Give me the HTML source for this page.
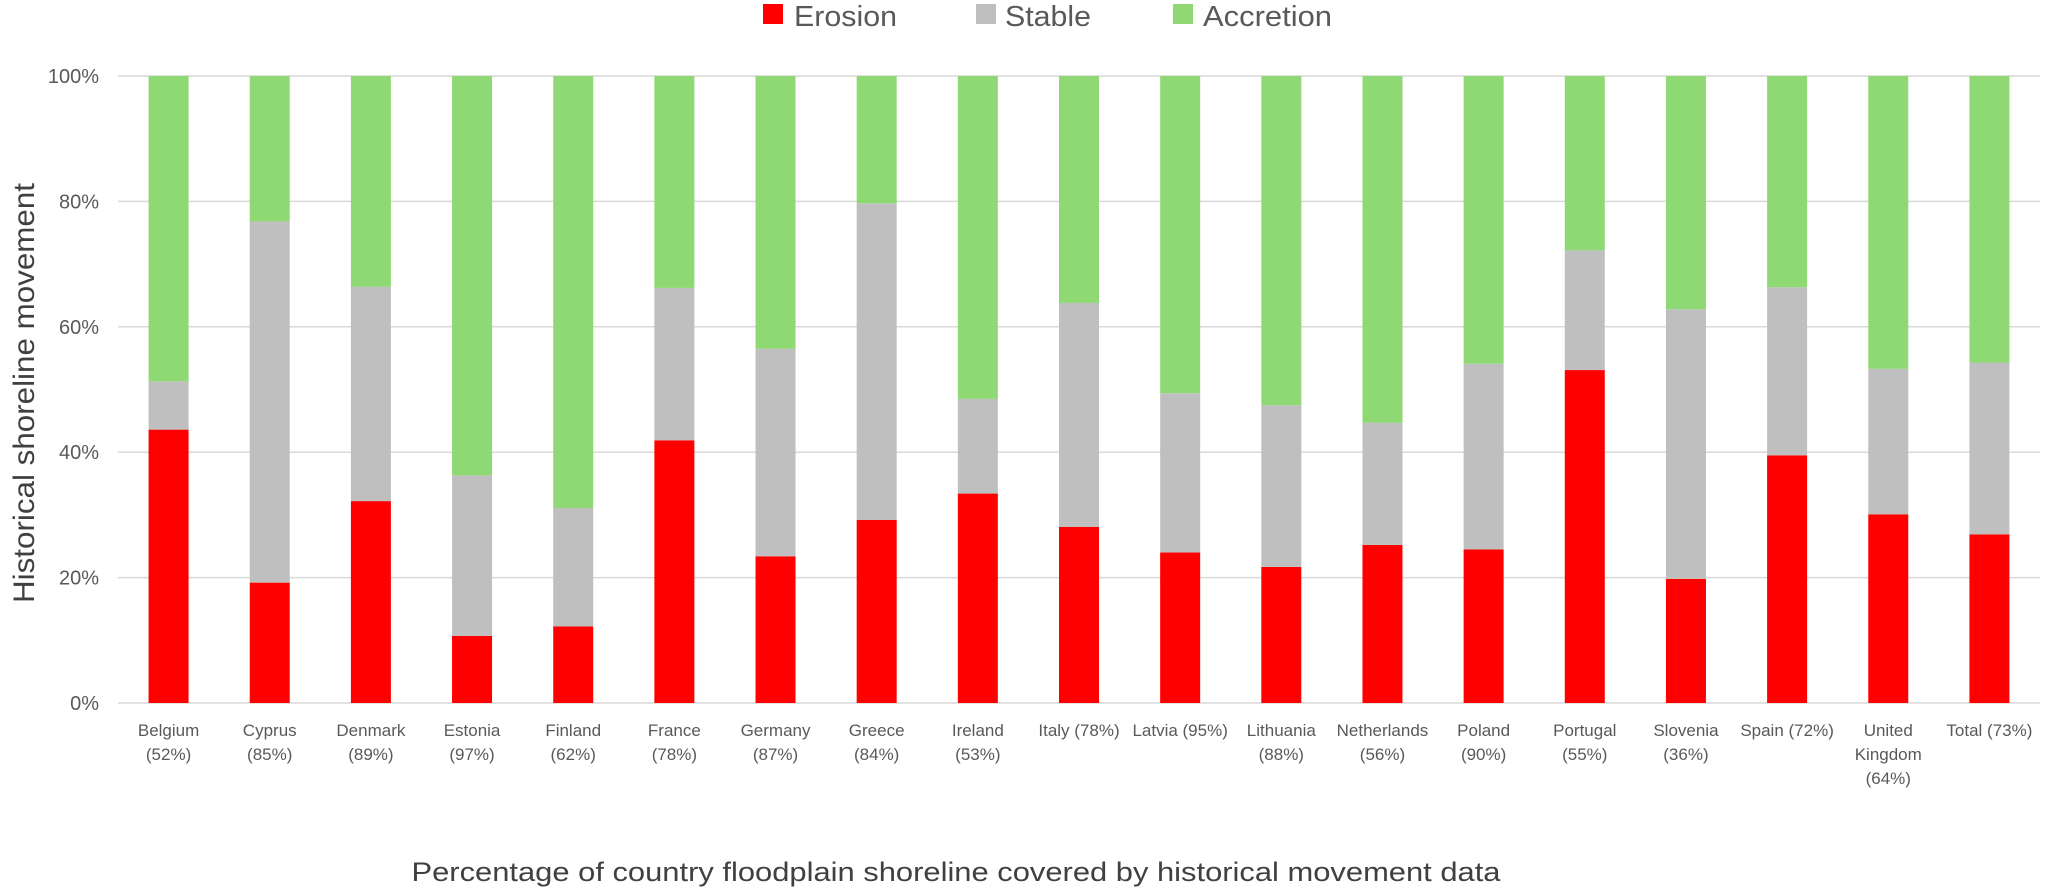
<!DOCTYPE html>
<html><head><meta charset="utf-8"><style>
html,body{margin:0;padding:0;background:#fff;}
svg{display:block;font-family:"Liberation Sans",sans-serif;}
</style></head><body>
<svg id="chart" width="2048" height="896" viewBox="0 0 2048 896" xmlns="http://www.w3.org/2000/svg">
<g id="legend">
 <g><rect x="763" y="4" width="20" height="20" fill="#FF0000"/><text x="794" y="26" font-size="29" fill="#595959" textLength="103" lengthAdjust="spacingAndGlyphs">Erosion</text></g>
 <g><rect x="976" y="4" width="20" height="20" fill="#BFBFBF"/><text x="1005" y="26" font-size="29" fill="#595959" textLength="86" lengthAdjust="spacingAndGlyphs">Stable</text></g>
 <g><rect x="1173" y="4" width="20" height="20" fill="#8FD974"/><text x="1203" y="26" font-size="29" fill="#595959" textLength="129" lengthAdjust="spacingAndGlyphs">Accretion</text></g>
</g>
<g id="grid"></g>
<g id="yticks"></g>
<g id="bars"></g>
<g id="xlabels"></g>
<text transform="translate(34,393) rotate(-90)" text-anchor="middle" font-size="30" fill="#404040" textLength="420" lengthAdjust="spacingAndGlyphs">Historical shoreline movement</text>
<text x="956" y="881" text-anchor="middle" font-size="27" fill="#404040" textLength="1089" lengthAdjust="spacingAndGlyphs">Percentage of country floodplain shoreline covered by historical movement data</text>
</svg>
<script>
const categories = [["Belgium","(52%)"],["Cyprus","(85%)"],["Denmark","(89%)"],["Estonia","(97%)"],["Finland","(62%)"],["France","(78%)"],["Germany","(87%)"],["Greece","(84%)"],["Ireland","(53%)"],["Italy (78%)"],["Latvia (95%)"],["Lithuania","(88%)"],["Netherlands","(56%)"],["Poland","(90%)"],["Portugal","(55%)"],["Slovenia","(36%)"],["Spain (72%)"],["United","Kingdom","(64%)"],["Total (73%)"]];
const erosion = [43.6,19.2,32.2,10.7,12.2,41.9,23.4,29.2,33.4,28.1,24.0,21.7,25.2,24.5,53.1,19.8,39.5,30.1,26.9];
const stable = [7.7,57.6,34.2,25.6,18.9,24.3,33.1,50.5,15.1,35.7,25.4,25.8,19.5,29.6,19.1,43.0,26.8,23.2,27.4];
const accretion = [48.7,23.2,33.6,63.7,68.9,33.8,43.5,20.3,51.5,36.2,50.6,52.5,55.3,45.9,27.8,37.2,33.7,46.7,45.7];
const yTicks = [0,20,40,60,80,100];

const NS="http://www.w3.org/2000/svg";
const pLeft=118,pRight=2040,pTop=76,pBottom=703;
const band=(pRight-pLeft)/categories.length, barW=40;
const yS=v=>pBottom-(v/100)*(pBottom-pTop);
const xc=i=>pLeft+band*(i+0.5);
function mk(tag,attrs,parent){const e=document.createElementNS(NS,tag);for(const k in attrs)e.setAttribute(k,attrs[k]);parent.appendChild(e);return e;}
const grid=document.getElementById('grid'),yt=document.getElementById('yticks'),bars=document.getElementById('bars'),xl=document.getElementById('xlabels');
yTicks.forEach(t=>{
 const l=mk('line',{x1:pLeft,x2:pRight,y1:yS(t),y2:yS(t),stroke:'#D9D9D9','stroke-width':1.5},grid);
 
 
 const tx=mk('text',{x:99,y:yS(t)+7,'text-anchor':'end','font-size':20,fill:'#595959'},yt);
 tx.textContent=t+'%';
 
 
});
const series=[['erosion',erosion,'#FF0000'],['stable',stable,'#BFBFBF'],['accretion',accretion,'#8FD974']];
categories.forEach((c,i)=>{
 let base=0;
 series.forEach(([name,vals,col])=>{
  const v=vals[i];
  const r=mk('rect',{x:xc(i)-barW/2,y:yS(base+v),width:barW,height:yS(base)-yS(base+v),fill:col},bars);
  
  
  base+=v;
 });
 const t=mk('text',{'text-anchor':'middle','font-size':17,fill:'#595959'},xl);
 
 
 c.forEach((line,j)=>{const s=mk('tspan',{x:xc(i),y:736+j*24},t);s.textContent=line;});
});
</script>
</body></html>
